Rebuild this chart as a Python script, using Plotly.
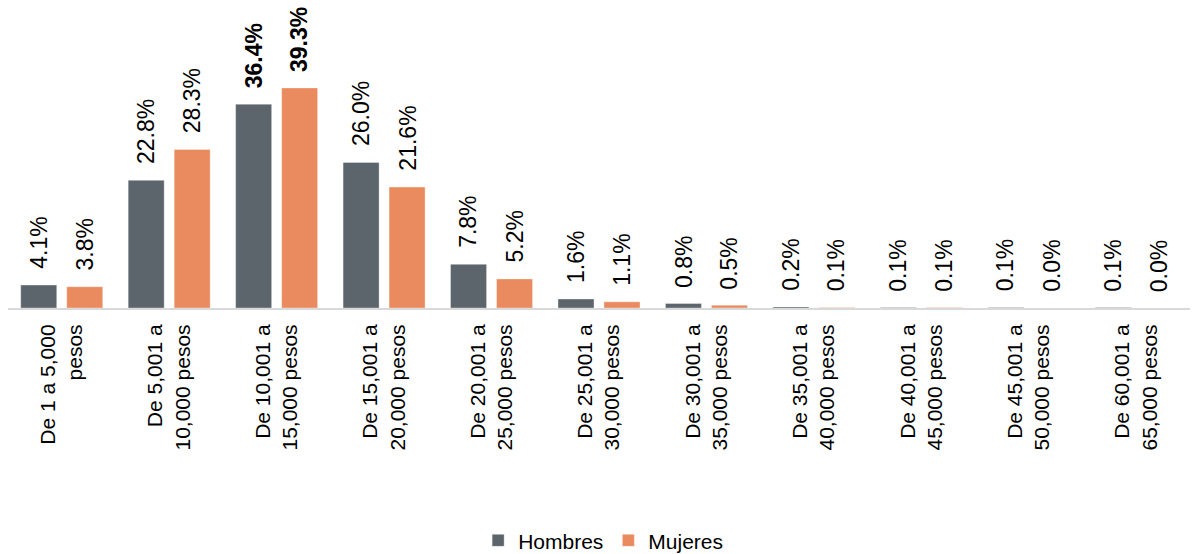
import plotly.graph_objects as go

categories = ["De 1 a 5,000<br>pesos", "De 5,001 a<br>10,000 pesos", "De 10,001 a<br>15,000 pesos",
              "De 15,001 a<br>20,000 pesos", "De 20,001 a<br>25,000 pesos", "De 25,001 a<br>30,000 pesos",
              "De 30,001 a<br>35,000 pesos", "De 35,001 a<br>40,000 pesos", "De 40,001 a<br>45,000 pesos",
              "De 45,001 a<br>50,000 pesos", "De 60,001 a<br>65,000 pesos"]
hombres = [4.1, 22.8, 36.4, 26.0, 7.8, 1.6, 0.8, 0.2, 0.1, 0.1, 0.1]
mujeres = [3.8, 28.3, 39.3, 21.6, 5.2, 1.1, 0.5, 0.1, 0.1, 0.0, 0.0]

FONT = "Arial, 'Liberation Sans', sans-serif"
GRAY = "#5B656B"
ORANGE = "#E98B5F"

x = list(range(len(categories)))
fig = go.Figure()
fig.add_trace(go.Bar(x=x, y=hombres, name="Hombres", marker_color=GRAY,
                     marker_line=dict(color="rgba(255,255,255,0.35)", width=1)))
fig.add_trace(go.Bar(x=x, y=mujeres, name="Mujeres", marker_color=ORANGE,
                     marker_line=dict(color="rgba(255,255,255,0.35)", width=1)))

# value labels placed at each bar through the axes
for vals, shift in ((hombres, -23), (mujeres, 23)):
    m = max(vals)
    for xi, v in zip(x, vals):
        s = f"{v:.1f}%"
        fig.add_annotation(x=xi, y=v, xref="x", yref="y", xshift=shift, yshift=16,
                           text=f"<b>{s}</b>" if v == m else s, showarrow=False,
                           textangle=-90, xanchor="center", yanchor="bottom",
                           borderpad=0, borderwidth=0,
                           font=dict(size=23, color="#000000", family=FONT))

fig.update_layout(
    width=1193, height=554,
    margin=dict(l=8, r=3, t=28, b=246, autoexpand=False),
    plot_bgcolor="white", paper_bgcolor="white",
    barmode="group", bargap=0.144, bargroupgap=0.217,
    font=dict(family=FONT, size=21, color="#000000"),
    showlegend=True,
    legend=dict(orientation="h", x=0.5035, xanchor="center", yref="container", y=0.024, yanchor="middle",
                font=dict(size=21, color="#000000"), itemwidth=30, traceorder="normal"),
)
fig.update_xaxes(tickmode="array", tickvals=x, ticktext=categories, tickangle=-90,
                 showline=True, linecolor="#D9D9D9", linewidth=2, ticks="", automargin=False,
                 ticklabelstandoff=6,
                 showgrid=False, zeroline=False, tickfont=dict(size=21, color="#000000"),
                 range=[-0.5, len(categories) - 0.5])
fig.update_yaxes(range=[0, 50], visible=False, showgrid=False, zeroline=False, automargin=False)

fig.write_html("out.html", config={"displayModeBar": False},
               post_script="document.body.style.margin='0px';")
